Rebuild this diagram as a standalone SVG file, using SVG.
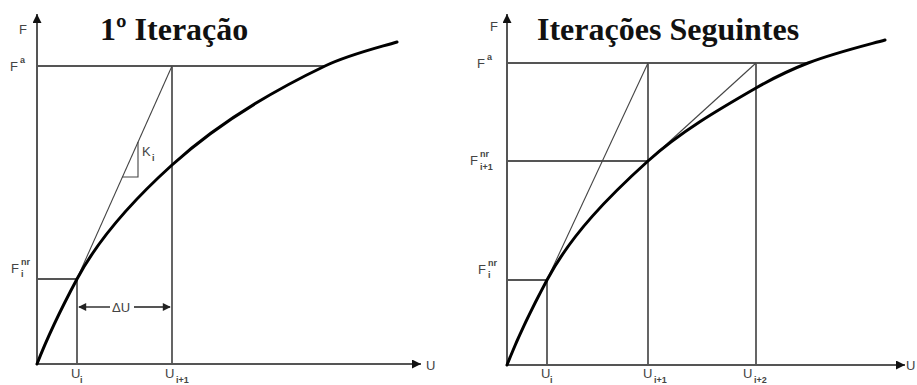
<svg xmlns="http://www.w3.org/2000/svg" width="917" height="385" viewBox="0 0 917 385">
<style>
.axis{stroke:#555;stroke-width:2;fill:none}
.guide{stroke:#555;stroke-width:1.8;fill:none}
.tan{stroke:#444;stroke-width:1.1;fill:none}
.curve{stroke:#000;stroke-width:3;fill:none;stroke-linecap:round}
.lbl{font-family:"Liberation Sans",Arial,sans-serif;font-size:13px;fill:#444}
.sub{font-family:"Liberation Sans",Arial,sans-serif;font-size:9px;fill:#444;font-weight:bold}
.title{font-family:"Liberation Serif","Times New Roman",serif;font-weight:bold;font-size:32px;fill:#111}
</style>
<defs>
<marker id="ah" viewBox="0 0 10 10" refX="9" refY="5" markerWidth="10" markerHeight="8" markerUnits="userSpaceOnUse" orient="auto-start-reverse">
<path d="M0,0 L10,5 L0,10 z" fill="#222"/>
</marker>
<marker id="ax" viewBox="0 0 10 10" refX="10" refY="5" markerWidth="12" markerHeight="9" markerUnits="userSpaceOnUse" orient="auto">
<path d="M0,0 L10,5 L0,10 z" fill="#111"/>
</marker>
</defs>

<g id="left-panel">
<text class="title" x="100" y="40">1º Iteração</text>
<g id="left-axes">
<line class="axis" x1="37" y1="364" x2="37" y2="14" marker-end="url(#ax)"/>
<line class="axis" x1="37" y1="364" x2="421" y2="364" marker-end="url(#ax)"/>
</g>
<g id="left-connectors">
<line class="guide" x1="37" y1="66" x2="326" y2="66"/>
<line class="guide" x1="172" y1="66" x2="172" y2="364"/>
<line class="guide" x1="37" y1="279" x2="77" y2="279"/>
<line class="guide" x1="77" y1="279" x2="77" y2="364"/>
<line class="tan" x1="172" y1="66" x2="76" y2="281"/>
<path class="tan" d="M138,142 L138,177 L122,177"/>
<line class="guide" x1="79" y1="307" x2="110" y2="307" marker-start="url(#ah)"/>
<line class="guide" x1="134" y1="307" x2="170" y2="307" marker-end="url(#ah)"/>
<path class="curve" d="M37,364 C48.3,334.9 62.3,306.5 77,279 C100.2,235.6 135.5,198 172,165 C216.9,124.3 270.4,92.1 325,66 C347.8,55.1 372.7,49.1 397,42"/>
</g>
<g id="left-labels">
<text class="lbl" x="19" y="34">F</text>
<text class="lbl" x="10" y="71">F</text><text class="sub" x="20" y="63">a</text>
<text class="lbl" x="11" y="273">F</text><text class="sub" x="21" y="265">nr</text><text class="sub" x="21" y="277">i</text>
<text class="lbl" x="142" y="156">K</text><text class="sub" x="152" y="161">i</text>
<text class="lbl" x="112" y="312">ΔU</text>
<text class="lbl" x="71" y="378">U</text><text class="sub" x="80" y="383">i</text>
<text class="lbl" x="165" y="378">U</text><text class="sub" x="176" y="383">i+1</text>
<text class="lbl" x="426" y="370">U</text>
</g>
</g>

<g id="right-panel">
<text class="title" x="537" y="40">Iterações Seguintes</text>
<g id="right-axes">
<line class="axis" x1="507" y1="365" x2="507" y2="14" marker-end="url(#ax)"/>
<line class="axis" x1="507" y1="365" x2="905" y2="365" marker-end="url(#ax)"/>
</g>
<g id="right-connectors">
<line class="guide" x1="507" y1="63" x2="810" y2="63"/>
<line class="guide" x1="648" y1="63" x2="648" y2="365"/>
<line class="guide" x1="756" y1="63" x2="756" y2="365"/>
<line class="guide" x1="507" y1="161" x2="648" y2="161"/>
<line class="guide" x1="507" y1="280" x2="547" y2="280"/>
<line class="guide" x1="547" y1="280" x2="547" y2="365"/>
<line class="tan" x1="648" y1="63" x2="546" y2="282"/>
<line class="tan" x1="756" y1="63" x2="647" y2="162"/>
<path class="curve" d="M507,365 C518.3,335.9 532.3,307.5 547,280 C571.4,234.2 609.5,195.8 648,161 C680,132 718.3,109.7 756,88 C772.7,78.4 790.1,69.9 808,63 C832.9,53.4 859.1,47 885,40"/>
</g>
<g id="right-labels">
<text class="lbl" x="490" y="31">F</text>
<text class="lbl" x="477" y="68">F</text><text class="sub" x="487" y="60">a</text>
<text class="lbl" x="470" y="165">F</text><text class="sub" x="480" y="157">nr</text><text class="sub" x="480" y="170">i+1</text>
<text class="lbl" x="478" y="274">F</text><text class="sub" x="488" y="266">nr</text><text class="sub" x="488" y="278">i</text>
<text class="lbl" x="541" y="378">U</text><text class="sub" x="550" y="383">i</text>
<text class="lbl" x="643" y="378">U</text><text class="sub" x="654" y="383">i+1</text>
<text class="lbl" x="743" y="378">U</text><text class="sub" x="754" y="383">i+2</text>
<text class="lbl" x="906" y="370">U</text>
</g>
</g>
</svg>
